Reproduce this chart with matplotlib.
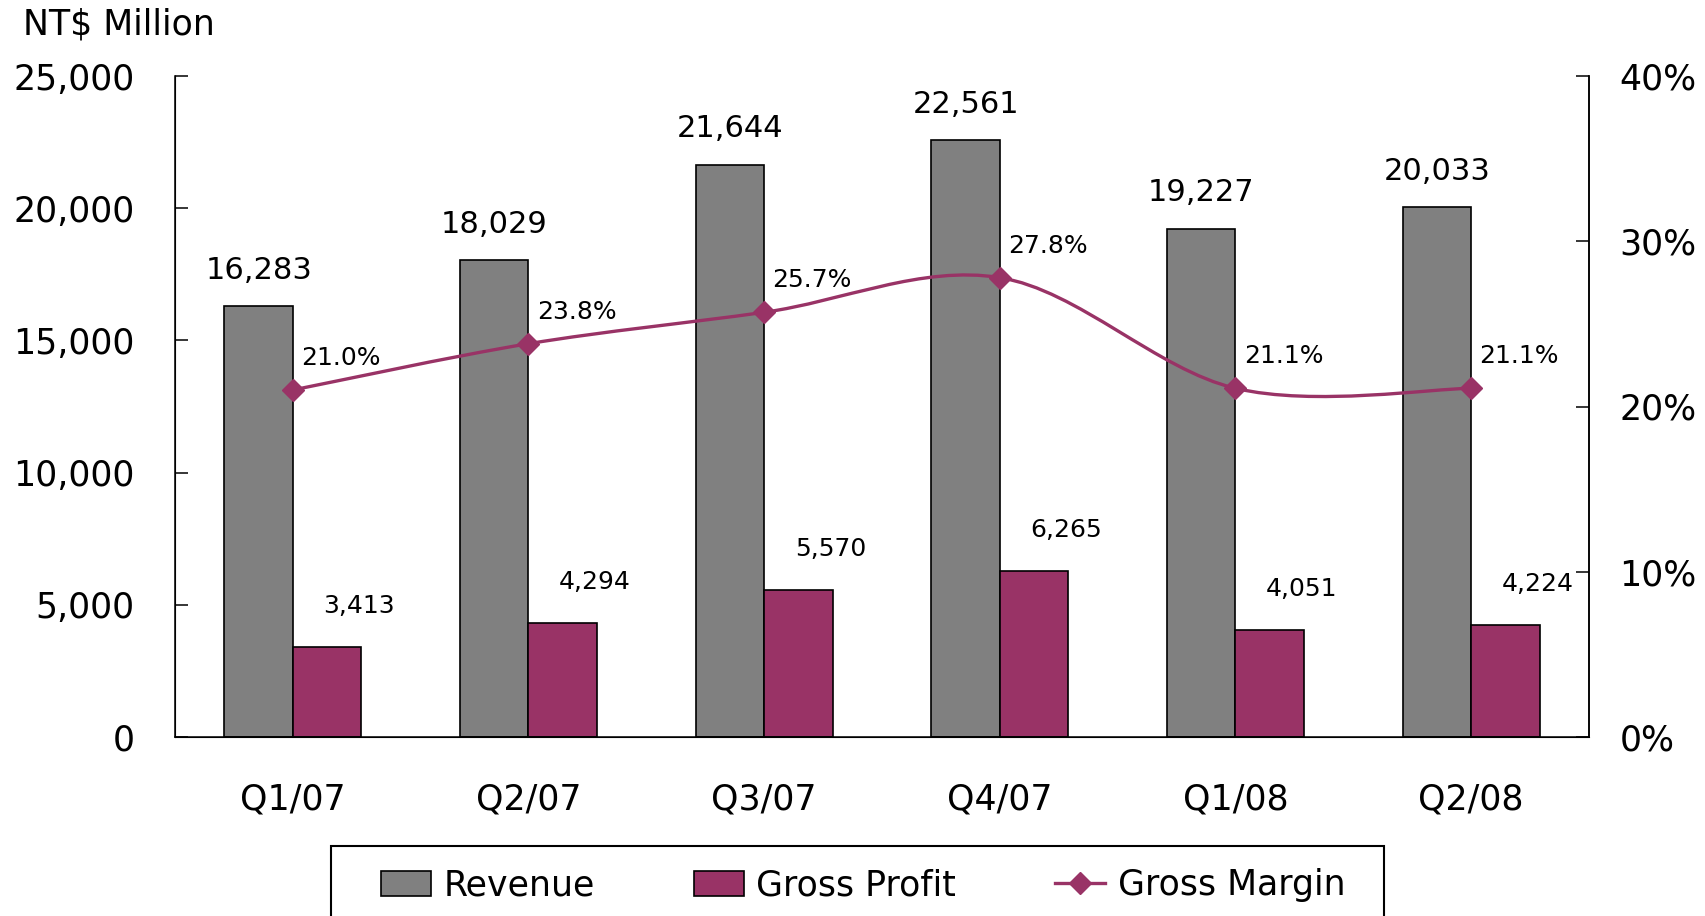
import matplotlib
matplotlib.use("Agg")
import matplotlib.pyplot as plt
import numpy as np
from matplotlib.path import Path
from matplotlib.patches import PathPatch, Rectangle
from matplotlib.lines import Line2D
from matplotlib.ticker import FuncFormatter

# data
quarters = ["Q1/07", "Q2/07", "Q3/07", "Q4/07", "Q1/08", "Q2/08"]
revenue = [16283, 18029, 21644, 22561, 19227, 20033]
gross_profit = [3413, 4294, 5570, 6265, 4051, 4224]
gross_margin = [21.0, 23.8, 25.7, 27.8, 21.1, 21.1]

GRAY = "#808080"
PLUM = "#993366"
FS = 25


def smooth_path(xs, ys):
    # Excel-style smoothed line: cubic Bezier through each point
    pts = np.column_stack([xs, ys]).astype(float)
    ext = np.vstack([pts[0], pts, pts[-1]])
    verts = [tuple(pts[0])]
    codes = [Path.MOVETO]
    for i in range(len(pts) - 1):
        p0, p1, p2, p3 = ext[i], ext[i + 1], ext[i + 2], ext[i + 3]
        c1 = p1 + (p2 - p0) / 6.0
        c2 = p2 - (p3 - p1) / 6.0
        verts += [tuple(c1), tuple(c2), tuple(p2)]
        codes += [Path.CURVE4] * 3
    return Path(verts, codes)


fig = plt.figure(figsize=(17.06, 9.16), dpi=100)
W, H = 1706, 916
ax = fig.add_axes([175 / W, 1 - 737 / H, (1589 - 175) / W, (737 - 76) / H])
ax2 = ax.twinx()

x = np.arange(len(quarters))
w = 0.29
b_rev = ax.bar(x - w / 2, revenue, w, color=GRAY, edgecolor="black",
               linewidth=1.2, label="Revenue")
b_gp = ax.bar(x + w / 2, gross_profit, w, color=PLUM, edgecolor="black",
              linewidth=1.2, label="Gross Profit")

ax.set_xlim(-0.5, len(quarters) - 0.5)
ax.set_ylim(0, 25000)
ax.set_yticks(np.arange(0, 25001, 5000))
ax.yaxis.set_major_formatter(FuncFormatter(lambda v, p: f"{int(v):,}"))
ax.set_xticks(x)
ax.set_xticklabels(quarters)
ax.tick_params(axis="x", length=0, pad=33, labelsize=FS)
ax.tick_params(axis="y", direction="in", length=9.5, width=1.1, pad=29,
               labelsize=FS)
ax.spines["top"].set_visible(False)
for s in ("left", "bottom", "right"):
    ax.spines[s].set_linewidth(1.1)

ax2.set_ylim(0, 40)
ax2.set_yticks(np.arange(0, 41, 10))
ax2.yaxis.set_major_formatter(FuncFormatter(lambda v, p: f"{int(v)}%"))
ax2.tick_params(axis="y", direction="in", length=9.5, width=1.1, pad=22,
                labelsize=FS)
ax2.spines["top"].set_visible(False)
ax2.spines["right"].set_linewidth(1.1)

# smoothed margin line + diamond markers
ax2.add_patch(PathPatch(smooth_path(x, gross_margin), facecolor="none",
                        edgecolor=PLUM, linewidth=2.4, zorder=3))
ax2.plot(x, gross_margin, linestyle="none", marker="D", markersize=11,
         color=PLUM, zorder=4)

# data labels
for xi, v in zip(x, revenue):
    ax.annotate(f"{v:,}", (xi - w / 2, v), xytext=(0, 36),
                textcoords="offset pixels", ha="center", va="center",
                fontsize=22)
for xi, v in zip(x, gross_profit):
    ax.annotate(f"{v:,}", (xi + w / 2, v), xytext=(32, 41),
                textcoords="offset pixels", ha="center", va="center",
                fontsize=18)
for xi, v in zip(x, gross_margin):
    ax2.annotate(f"{v:.1f}%", (xi, v), xytext=(48, 32),
                 textcoords="offset pixels", ha="center", va="center",
                 fontsize=18)

fig.text(23 / W, 1 - 24 / H, "NT$ Million", fontsize=FS, ha="left",
         va="center")

# legend box runs off the bottom edge of the picture
fig.patches.append(Rectangle((331 / W, -0.05), (1384 - 331) / W,
                             (1 - 846 / H) + 0.05, transform=fig.transFigure,
                             facecolor="white", edgecolor="black",
                             linewidth=1.5, zorder=0))

gm_handle = Line2D([], [], color=PLUM, linewidth=2.4, marker="D",
                   markersize=11)
leg = fig.legend([b_rev, b_gp, gm_handle],
                 ["Revenue", "Gross Profit", "Gross Margin"],
                 loc="upper center", bbox_to_anchor=(863 / W, 1 - 851 / H),
                 ncol=3, fontsize=FS, frameon=False, borderpad=0.5,
                 handlelength=1.45, handleheight=0.72, handletextpad=0.35,
                 columnspacing=2.85, borderaxespad=0)

fig.savefig("out.png", dpi=100)
